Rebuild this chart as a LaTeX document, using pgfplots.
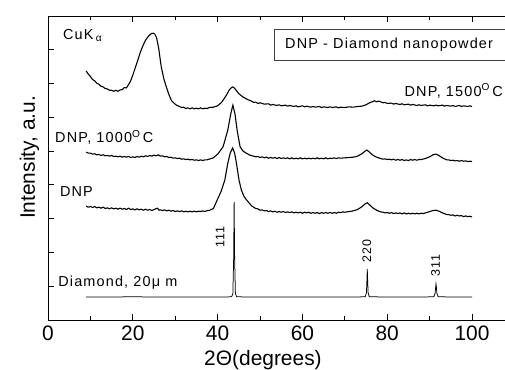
\documentclass[border=0pt]{standalone}
\usepackage{fontspec}
\setmainfont{Liberation Sans}
\newfontfamily\ann[LetterSpace=8]{Liberation Sans}
\usepackage{pgfplots}
\pgfplotsset{compat=1.18}
\tikzset{annot/.style={inner sep=0pt, font=\ann\fontsize{14.5}{15}\selectfont}}
\begin{document}
\begin{tikzpicture}
\begin{axis}[
  name=ax, scale only axis, width=466.4bp, height=304bp,
  xmin=0, xmax=110, ymin=0, ymax=9,
  xtick={0,20,...,100}, minor xtick={10,30,...,90},
  ytick={1,2,...,8}, yticklabels={},
  tick align=inside, major tick length=6bp, minor tick length=4bp,
  every tick/.style={black, line width=0.8bp},
  axis line style={line width=0.9bp},
  ticklabel style={font=\fontsize{21}{21}\selectfont},
  xticklabel style={yshift=-2bp},
  /pgf/number format/assume math mode=true,
  clip=false,
]
% Diamond
\addplot[black, line width=0.75bp] coordinates {
(9,0.68) (20,0.685) (30,0.68) (40,0.68) (43.3,0.685) (43.6,0.78) (43.78,1.8) (43.9,3.49) (44.02,1.8) (44.2,0.78) (44.5,0.685)
(50,0.68) (60,0.68) (70,0.68) (74.8,0.685) (75.1,0.8) (75.22,1.2) (75.3,1.51) (75.38,1.2) (75.5,0.8) (75.8,0.685)
(85,0.68) (91.0,0.685) (91.3,0.8) (91.45,1.0) (91.5,1.07) (91.58,1.0) (91.7,0.8) (92.0,0.685) (100,0.68)
};
% DNP
\addplot[black, line width=1.1bp] coordinates {
(9,3.37) (9.5,3.34) (10,3.36) (10.5,3.33) (11,3.36) (11.5,3.32) (12,3.34) (12.5,3.31) (13,3.34) (13.5,3.30) (14,3.32)
(14.5,3.29) (15,3.32) (15.5,3.29) (16,3.31) (16.5,3.28) (17,3.31) (17.5,3.28) (18,3.30) (18.5,3.27) (19,3.31)
(19.5,3.27) (20,3.29) (20.5,3.26) (21,3.29) (21.5,3.26) (22,3.28) (22.5,3.25) (23,3.28) (23.5,3.25) (24,3.27)
(24.5,3.24) (25,3.27) (25.8,3.31) (26.2,3.25) (26.5,3.26) (27,3.24) (27.5,3.26) (28,3.23) (28.5,3.25) (29,3.22)
(29.5,3.24) (30,3.21) (30.5,3.23) (31,3.21) (31.5,3.23) (32,3.20) (32.5,3.22) (33,3.20) (33.5,3.22) (34,3.20)
(34.5,3.22) (35,3.20) (35.5,3.22) (36,3.21) (36.5,3.23) (37,3.21) (37.5,3.24) (38,3.24) (39,3.30) (39.9,3.55)
(40.8,3.80) (41.7,4.14) (42.4,4.64) (43.0,4.95) (43.55,5.09) (44.0,4.95) (44.45,4.64) (45.05,4.14) (45.6,3.85)
(46.2,3.66) (46.85,3.55) (48,3.38) (49,3.30) (49.5,3.29) (50,3.25) (50.5,3.26) (51,3.23) (51.5,3.24) (52,3.21)
(52.5,3.23) (53,3.20) (53.5,3.22) (54,3.19) (54.5,3.21) (55,3.19) (55.5,3.21) (56,3.18) (56.5,3.20) (57,3.18)
(57.5,3.20) (58,3.17) (58.5,3.19) (59,3.17) (59.5,3.19) (60,3.16) (60.5,3.19) (61,3.17) (61.5,3.19) (62,3.16)
(62.5,3.18) (63,3.16) (63.5,3.18) (64,3.15) (64.5,3.18) (65,3.16) (65.5,3.18) (66,3.16) (66.5,3.18) (67,3.16)
(67.5,3.18) (68,3.16) (68.5,3.19) (69,3.18) (69.5,3.20) (70,3.19) (71,3.21) (72,3.23) (73,3.27) (74,3.35)
(74.7,3.43) (75.3,3.47) (76,3.39) (76.7,3.31) (77.5,3.25) (78,3.22) (78.5,3.20) (79,3.19) (79.5,3.17) (80,3.18)
(80.5,3.16) (81,3.18) (81.5,3.15) (82,3.17) (82.5,3.15) (83,3.17) (83.5,3.14) (84,3.17) (84.5,3.14) (85,3.16)
(85.5,3.14) (86,3.16) (86.5,3.14) (87,3.16) (87.5,3.14) (88,3.16) (88.5,3.15) (89.3,3.18) (90,3.21) (90.8,3.24)
(91.5,3.25) (92.2,3.22) (93,3.17) (93.5,3.15) (94,3.12) (94.5,3.12) (95,3.10) (95.5,3.11) (96,3.08) (96.5,3.10)
(97,3.08) (97.5,3.09) (98,3.06) (98.5,3.08) (99,3.06) (99.5,3.07) (100,3.05)
};
% DNP 1000C
\addplot[black, line width=1.1bp] coordinates {
(9,4.97) (9.5,4.94) (10,4.94) (10.5,4.91) (11,4.92) (11.5,4.89) (12,4.90) (12.5,4.87) (13,4.89) (13.5,4.86)
(14,4.87) (14.5,4.85) (15,4.87) (15.5,4.84) (16,4.85) (16.5,4.83) (17,4.85) (17.5,4.82) (18,4.84) (18.5,4.82)
(19,4.84) (19.5,4.81) (20,4.83) (20.5,4.81) (21,4.84) (21.5,4.82) (22,4.85) (22.5,4.83) (23,4.86) (23.5,4.84)
(24,4.87) (24.5,4.85) (25,4.88) (25.5,4.86) (26,4.89) (26.5,4.85) (27,4.86) (27.5,4.83) (28,4.84) (28.5,4.81)
(29,4.82) (29.5,4.79) (30,4.80) (30.5,4.78) (31,4.79) (31.5,4.76) (32,4.77) (32.5,4.75) (33,4.76) (33.5,4.74)
(34,4.75) (34.5,4.73) (35,4.74) (35.5,4.72) (36,4.74) (36.5,4.72) (37,4.74) (37.5,4.74) (38,4.76) (39,4.80)
(40.1,4.92) (41.3,5.13) (42.4,5.62) (43.1,6.10) (43.6,6.36) (44.1,6.10) (44.6,5.62) (45.3,5.13) (46.0,5.00)
(46.6,4.95) (47.6,4.88) (48.5,4.85) (49,4.83) (49.5,4.84) (50,4.81) (50.5,4.83) (51,4.80) (51.5,4.82) (52,4.79)
(52.5,4.81) (53,4.79) (53.5,4.81) (54,4.78) (54.5,4.81) (55,4.78) (55.5,4.80) (56,4.78) (56.5,4.80) (57,4.77)
(57.5,4.80) (58,4.77) (58.5,4.79) (59,4.77) (59.5,4.80) (60,4.77) (60.5,4.79) (61,4.77) (61.5,4.79) (62,4.77)
(62.5,4.79) (63,4.77) (63.5,4.80) (64,4.77) (64.5,4.79) (65,4.77) (65.5,4.80) (66,4.77) (66.5,4.79) (67,4.78)
(67.5,4.80) (68,4.78) (68.5,4.80) (69,4.79) (70,4.80) (71,4.81) (72,4.82) (73,4.85) (74,4.92) (74.7,4.99)
(75.2,5.03) (75.8,4.97) (76.5,4.89) (77.3,4.83) (78.2,4.79) (78.5,4.78) (79,4.76) (79.5,4.77) (80,4.75)
(80.5,4.76) (81,4.74) (81.5,4.76) (82,4.73) (82.5,4.75) (83,4.73) (83.5,4.75) (84,4.72) (84.5,4.74) (85,4.72)
(85.5,4.75) (86,4.73) (86.5,4.75) (87,4.73) (87.5,4.75) (88,4.75) (89,4.78) (90,4.83) (90.8,4.89) (91.5,4.91)
(92.2,4.87) (93,4.80) (93.5,4.77) (94,4.74) (94.5,4.74) (95,4.72) (95.5,4.73) (96,4.71) (96.5,4.72) (97,4.70)
(97.5,4.72) (98,4.70) (98.5,4.71) (99,4.69) (99.5,4.70) (100,4.69)
};
% DNP 1500C
\addplot[black, line width=1.1bp] coordinates {
(9,7.37) (9.5,7.28) (10,7.21) (10.5,7.12) (11,7.08) (11.5,7.01) (12,6.98) (12.5,6.92) (13,6.90) (13.5,6.85) (14,6.84)
(14.5,6.80) (15,6.80) (15.5,6.77) (16,6.80) (16.5,6.77) (17,6.81) (17.5,6.82) (18,6.88) (18.5,6.87) (19,6.97)
(19.5,7.08) (20,7.25) (20.4,7.40) (20.8,7.55) (21.2,7.70) (21.6,7.86) (22,8.00) (22.5,8.15) (23,8.28) (23.5,8.37)
(24,8.44) (24.4,8.48) (24.8,8.49) (25.2,8.46) (25.6,8.36) (26.1,8.05) (26.7,7.50) (27.3,7.15) (27.9,6.90) (28.5,6.68)
(29.1,6.50) (29.7,6.42) (30.3,6.36) (31,6.32) (31.5,6.29) (32,6.30) (32.5,6.26) (33,6.28) (33.5,6.25) (34,6.28)
(34.5,6.25) (35,6.27) (35.5,6.25) (36,6.28) (36.5,6.25) (37,6.27) (37.5,6.26) (38,6.29) (39,6.30) (40,6.34)
(41,6.45) (42,6.64) (42.8,6.82) (43.3,6.88) (43.6,6.90) (44,6.86) (44.5,6.78) (45,6.70) (46,6.60) (47,6.53)
(48,6.48) (48.5,6.44) (49,6.45) (49.5,6.41) (50,6.43) (51,6.39) (52,6.40) (52.5,6.36) (53,6.38) (54,6.35)
(54.5,6.37) (55,6.34) (56,6.36) (56.5,6.33) (57,6.35) (58,6.32) (58.5,6.34) (59,6.31) (60,6.34) (60.5,6.31)
(61,6.33) (62,6.30) (62.5,6.32) (63,6.30) (64,6.32) (64.5,6.29) (65,6.31) (66,6.29) (66.5,6.31) (67,6.29)
(68,6.31) (68.5,6.28) (69,6.30) (70,6.29) (71,6.31) (72,6.30) (73,6.32) (74,6.33) (75,6.37) (76,6.44) (76.5,6.46)
(77,6.49) (77.5,6.46) (78,6.48) (79,6.43) (79.5,6.44) (80,6.41) (81,6.42) (81.5,6.39) (82,6.41) (83,6.38)
(83.5,6.40) (84,6.37) (85,6.39) (85.5,6.36) (86,6.38) (87,6.35) (87.5,6.37) (88,6.35) (89,6.37) (89.5,6.34)
(90,6.36) (91,6.34) (91.5,6.36) (92,6.34) (93,6.36) (93.5,6.33) (94,6.35) (95,6.33) (95.5,6.35) (96,6.32)
(97,6.35) (97.5,6.32) (98,6.34) (99,6.32) (99.5,6.34) (100,6.32)
};
% annotations
\node[annot, anchor=west] at (axis cs:3.5,8.43) {CuK\,\textsubscript{α}};
\node[annot, anchor=west] at (axis cs:1.65,5.41) {DNP, 1000\textsuperscript{O}\,C};
\node[annot, anchor=west] at (axis cs:2.8,3.80) {DNP};
\node[annot, anchor=west] at (axis cs:2.4,1.10) {Diamond, 20μ m};
\node[annot, anchor=east] at (axis cs:107.3,6.78) {DNP, 1500\textsuperscript{O}\,C};
\draw[black!75, line width=0.8bp] (axis cs:53.5,7.69) rectangle (axis cs:115,8.61);
\node[annot, anchor=west] at (axis cs:55.9,8.15) {DNP - Diamond nanopowder};
\node[rotate=90, font=\ann\fontsize{12.5}{13}\selectfont] at (axis cs:40.6,2.46) {111};
\node[rotate=90, font=\ann\fontsize{12.5}{13}\selectfont] at (axis cs:75.2,2.04) {220};
\node[rotate=90, font=\ann\fontsize{12.5}{13}\selectfont] at (axis cs:91.4,1.60) {311};
\node[rotate=90, anchor=base, font=\fontsize{21}{21}\selectfont] at (axis cs:-3.07,4.81) {Intensity, a.u.};
\node[anchor=base, font=\fontsize{21}{21}\selectfont] at (axis cs:50.7,-1.36) {2Θ(degrees)};
\coordinate (bbsw) at (axis cs:-11.32,-1.479);
\coordinate (bbne) at (axis cs:107.78,9.473);
\end{axis}
\pgfresetboundingbox
\useasboundingbox (bbsw) rectangle (bbne);
\end{tikzpicture}
\end{document}
